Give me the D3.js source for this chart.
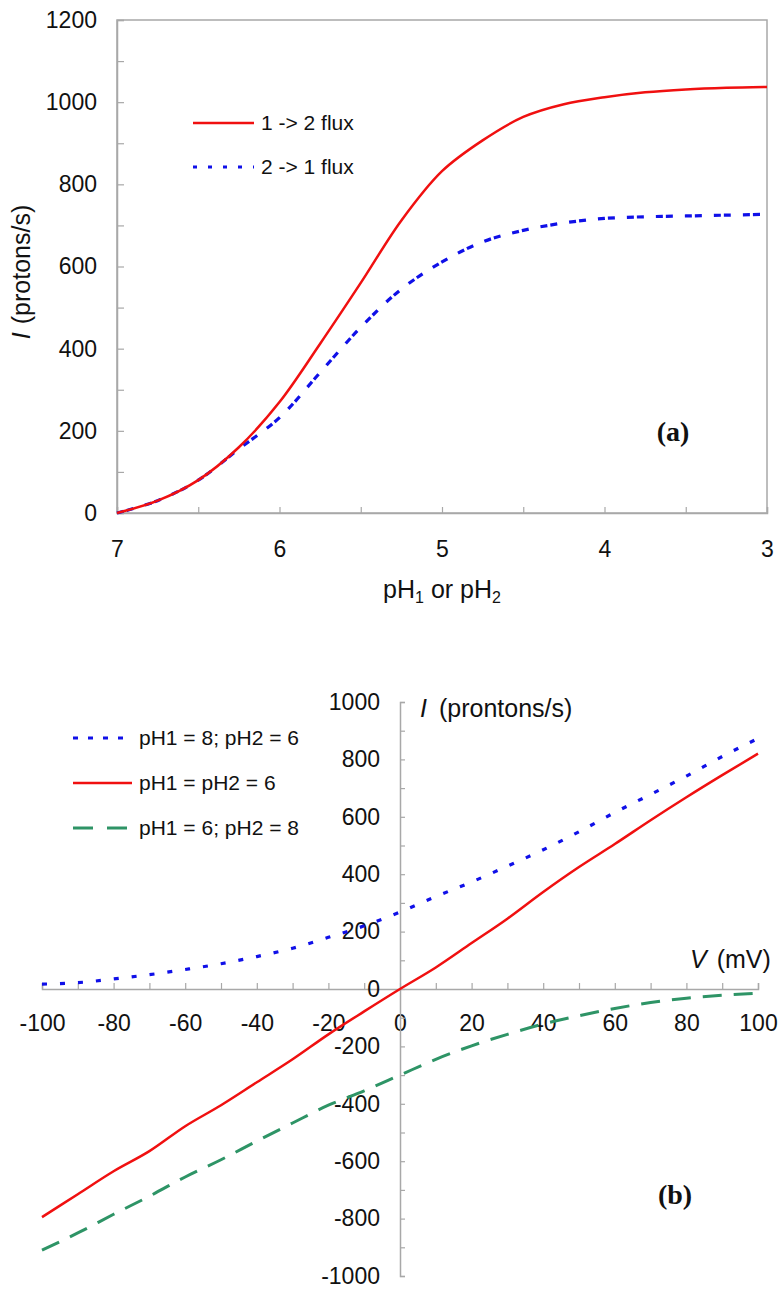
<!DOCTYPE html>
<html>
<head>
<meta charset="utf-8">
<script src="https://cdnjs.cloudflare.com/ajax/libs/d3/7.8.5/d3.min.js"></script>
<style>
  body { margin: 0; background: #fff; }
</style>
</head>
<body>
<div id="svg_div"></div>
<script>
// ---- data, panel (a): flux against pH
var phValues = [7, 6.75, 6.5, 6.25, 6, 5.75, 5.5, 5.25, 5, 4.75, 4.5, 4.25, 4, 3.75, 3.5, 3.25, 3];
var flux12 = [0, 30, 80, 160, 270, 412, 560, 712, 832, 907, 964, 995, 1012, 1024, 1031, 1035, 1037];
var flux21 = [0, 30, 80, 156, 232, 342, 452, 545, 611, 660, 688, 706, 717, 721, 723, 725, 727];
var phTicks = [7, 6.5, 6, 5.5, 5, 4.5, 4, 3.5, 3];
var fluxTicksA = [0, 100, 200, 300, 400, 500, 600, 700, 800, 900, 1000, 1100, 1200];

// ---- data, panel (b): flux against voltage
var voltage = [-100, -90, -80, -70, -60, -50, -40, -30, -20, -10, 0, 10, 20, 30, 40, 50, 60, 70, 80, 90, 100];
var fluxPh86 = [17, 22, 35, 50, 68, 88, 113, 142, 180, 220, 268, 322, 373, 428, 485, 548, 615, 678, 742, 810, 873];
var fluxPh66 = [-795, -715, -635, -565, -478, -405, -325, -245, -158, -78, 0, 75, 160, 245, 338, 425, 505, 588, 668, 745, 820];
var fluxPh68 = [-910, -850, -785, -722, -655, -595, -530, -467, -405, -355, -300, -245, -198, -158, -122, -93, -68, -47, -32, -22, -15];
var voltTicks = [-100, -90, -80, -70, -60, -50, -40, -30, -20, -10, 0, 10, 20, 30, 40, 50, 60, 70, 80, 90, 100];
var fluxTicksB = [-1000, -900, -800, -700, -600, -500, -400, -300, -200, -100, 0, 100, 200, 300, 400, 500, 600, 700, 800, 900, 1000];

// some dimensions
var width = 780, height = 1289;
var axisColor = "#a8a8a8";
var tickFont = 23, legendFont = 21, titleFont = 25, panelFont = 28;
var sansFamily = "'Liberation Sans', Arial, sans-serif",
  serifFamily = "'Liberation Serif', 'Times New Roman', serif";
var red = "#f01010", blue = "#1010e8", green = "#2e9466";

var svg = d3.select("#svg_div")
  .append("svg")
  .attr("width", width)
  .attr("height", height)
  .attr("font-family", sansFamily)
  .style("background", "#fff");

// restyle the tick text and lines that d3.axis drew
function styleAxis(g) {
  g.attr("font-family", sansFamily).attr("font-size", tickFont);
  g.select(".domain").attr("stroke", axisColor).attr("stroke-width", 1.5);
  g.selectAll(".tick line").attr("stroke", axisColor).attr("stroke-width", 1.2);
  g.selectAll("text").attr("fill", "#111");
}

// draws a legend row: a short line sample and its label
function addLegendRow(container, x1, x2, y, color, dash, sw, label) {
  container.append("line")
    .attr("x1", x1).attr("x2", x2)
    .attr("y1", y).attr("y2", y)
    .attr("stroke", color)
    .attr("stroke-width", sw)
    .attr("stroke-dasharray", dash);
  container.append("text")
    .attr("x", x2 + 7)
    .attr("y", y)
    .attr("dy", "0.35em")
    .attr("font-size", legendFont)
    .attr("fill", "#111")
    .text(label);
}

// ================= panel (a) =================
var xA = d3.scaleLinear().domain([7, 3]).range([117, 767]);
var yA = d3.scaleLinear().domain([0, 1200]).range([513, 20]);

var panelA = svg.append("g").attr("id", "panel_a");

// plot frame
panelA.append("rect")
  .attr("x", xA(7)).attr("y", yA(1200))
  .attr("width", xA(3) - xA(7))
  .attr("height", yA(0) - yA(1200))
  .attr("fill", "none")
  .attr("stroke", axisColor)
  .attr("stroke-width", 1.5);

panelA.append("g")
  .attr("transform", `translate(0, ${yA(0)})`)
  .call(d3.axisBottom(xA)
    .tickValues(phTicks)
    .tickSize(-6)
    .tickPadding(28)
    .tickFormat(function(d) { return Number.isInteger(d) ? String(d) : ""; }))
  .call(styleAxis);

panelA.append("g")
  .attr("transform", `translate(${xA(7)}, 0)`)
  .call(d3.axisLeft(yA)
    .tickValues(fluxTicksA)
    .tickSize(-7)
    .tickPadding(20)
    .tickFormat(function(d) { return d % 200 === 0 ? String(d) : ""; }))
  .call(styleAxis);

var lineA = d3.line()
  .x(function(d, i) { return xA(phValues[i]); })
  .y(function(d) { return yA(d); })
  .curve(d3.curveCatmullRom.alpha(0.5));

panelA.append("path")
  .datum(flux21)
  .attr("d", lineA)
  .attr("fill", "none")
  .attr("stroke", blue)
  .attr("stroke-width", 3.2)
  .attr("stroke-dasharray", "7,3,7,12");

panelA.append("path")
  .datum(flux12)
  .attr("d", lineA)
  .attr("fill", "none")
  .attr("stroke", red)
  .attr("stroke-width", 2.5);

// legend
addLegendRow(panelA, 193, 254, 123, red, null, 2.5, "1 -> 2 flux");
addLegendRow(panelA, 193, 254, 167, blue, "4,11", 3, "2 -> 1 flux");

// axis titles
var xTitleA = panelA.append("text")
  .attr("x", (xA(7) + xA(3)) / 2)
  .attr("y", 598)
  .attr("text-anchor", "middle")
  .attr("font-size", titleFont)
  .attr("fill", "#111");
xTitleA.append("tspan").text("pH");
xTitleA.append("tspan").attr("font-size", 16).attr("dy", 5).text("1");
xTitleA.append("tspan").attr("dy", -5).text(" or pH");
xTitleA.append("tspan").attr("font-size", 16).attr("dy", 5).text("2");

var yTitleA = panelA.append("text")
  .attr("transform", "translate(30, 272) rotate(-90)")
  .attr("text-anchor", "middle")
  .attr("font-size", titleFont)
  .attr("fill", "#111");
yTitleA.append("tspan").attr("font-style", "italic").text("I");
yTitleA.append("tspan").attr("dx", 8).text("(protons/s)");

panelA.append("text")
  .attr("x", 673).attr("y", 441)
  .attr("text-anchor", "middle")
  .attr("font-family", serifFamily)
  .attr("font-weight", "bold")
  .attr("font-size", panelFont)
  .attr("fill", "#111")
  .text("(a)");

// ================= panel (b) =================
var xB = d3.scaleLinear().domain([-100, 100]).range([42, 758]);
var yB = d3.scaleLinear().domain([-1000, 1000]).range([1276, 702]);

var panelB = svg.append("g").attr("id", "panel_b");

panelB.append("g")
  .attr("transform", `translate(0, ${yB(0)})`)
  .call(d3.axisBottom(xB)
    .tickValues(voltTicks)
    .tickSize(-6)
    .tickPadding(26)
    .tickFormat(function(d) { return d % 20 === 0 ? String(d) : ""; }))
  .call(styleAxis);

panelB.append("g")
  .attr("transform", `translate(${xB(0)}, 0)`)
  .call(d3.axisLeft(yB)
    .tickValues(fluxTicksB)
    .tickSize(-5)
    .tickPadding(20)
    .tickFormat(function(d) { return d % 200 === 0 ? String(d) : ""; }))
  .call(styleAxis);

var lineB = d3.line()
  .x(function(d, i) { return xB(voltage[i]); })
  .y(function(d) { return yB(d); })
  .curve(d3.curveMonotoneX);

// each series: values, colour, dash, width
var seriesB = [
  {values: fluxPh68, color: green, dash: "19,12", sw: 3},
  {values: fluxPh86, color: blue, dash: "5,13", sw: 3.2},
  {values: fluxPh66, color: red, dash: null, sw: 2.5}
];

seriesB.forEach(function(s) {
  panelB.append("path")
    .datum(s.values)
    .attr("d", lineB)
    .attr("fill", "none")
    .attr("stroke", s.color)
    .attr("stroke-width", s.sw)
    .attr("stroke-dasharray", s.dash);
});

// legend
addLegendRow(panelB, 73, 132, 738, blue, "5,10", 3, "pH1 = 8; pH2 = 6");
addLegendRow(panelB, 73, 132, 783, red, null, 2.5, "pH1 = pH2 = 6");
addLegendRow(panelB, 73, 132, 828, green, "20,14", 3, "pH1 = 6; pH2 = 8");

// axis titles
var yTitleB = panelB.append("text")
  .attr("x", 420).attr("y", 717)
  .attr("font-size", titleFont)
  .attr("fill", "#111");
yTitleB.append("tspan").attr("font-style", "italic").text("I");
yTitleB.append("tspan").attr("dx", 12).text("(prontons/s)");

var xTitleB = panelB.append("text")
  .attr("x", 690).attr("y", 968)
  .attr("font-size", titleFont)
  .attr("fill", "#111");
xTitleB.append("tspan").attr("font-style", "italic").text("V");
xTitleB.append("tspan").attr("dx", 10).text("(mV)");

panelB.append("text")
  .attr("x", 675).attr("y", 1204)
  .attr("text-anchor", "middle")
  .attr("font-family", serifFamily)
  .attr("font-weight", "bold")
  .attr("font-size", panelFont)
  .attr("fill", "#111")
  .text("(b)");
</script>
</body>
</html>
